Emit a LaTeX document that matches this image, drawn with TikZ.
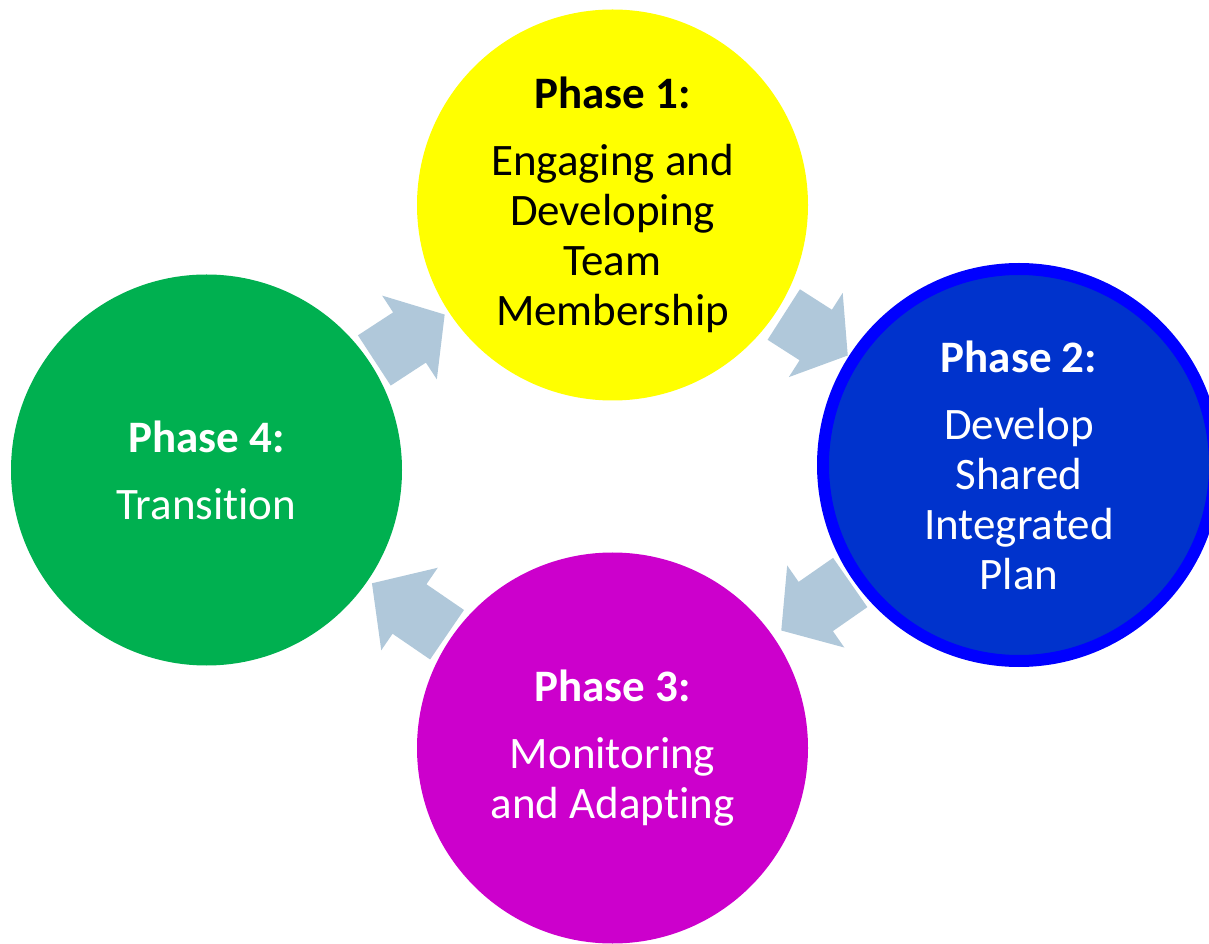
\documentclass[tikz,border=0pt]{standalone}
\usepackage{fontspec}
\setmainfont{Carlito}[Ligatures=NoCommon]
\usetikzlibrary{calc}
\definecolor{phaseyellow}{HTML}{FFFF00}
\definecolor{phaseblue}{HTML}{0033CC}
\definecolor{phaseblueedge}{HTML}{0000FF}
\definecolor{phasemagenta}{HTML}{CC00CC}
\definecolor{phasegreen}{HTML}{00B050}
\definecolor{arrowc}{HTML}{B0C8DA}
\newcommand{\cyclearrow}[3]{%
  \path[fill=arrowc] let \p1=(#1.center), \p2=(#2.center),
    \p3=($(#1.center)!0.5!(#2.center)$),
    \n1={atan2(\y2-\y1,\x2-\x1)} in
    [shift={(\p3)}, rotate=\n1]
    ({-#3/2},-30) -- (0,-30) -- (0,-50) -- ({#3/2},0) -- (0,50) -- (0,30) -- ({-#3/2},30) -- cycle;
}
\begin{document}
\begin{tikzpicture}[x=1pt,y=1pt,
  phase/.style={circle, inner sep=0pt, outer sep=0pt, minimum size=391pt,
    align=center, font=\fontsize{45}{50}\selectfont}]
\useasboundingbox (0,0) rectangle (1209,943);
\clip (0,0) rectangle (1209,943);
\node[phase, fill=phaseyellow, text=black] (p1) at (612.5,738)
  {{\bfseries Phase 1:}\\[17pt]Engaging and\\Developing\\Team\\Membership};
\node[phase, fill=phaseblue, draw=phaseblueedge, line width=12pt, minimum size=392pt, text=white] (p2) at (1019,478)
  {{\bfseries Phase 2:}\\[17pt]Develop\\Shared\\Integrated\\Plan};
\node[phase, fill=phasemagenta, text=white] (p3) at (612.5,195)
  {{\bfseries Phase 3:}\\[17pt]Monitoring\\and Adapting};
\node[phase, fill=phasegreen, text=white] (p4) at (206.5,473)
  {{\bfseries Phase 4:}\\[17pt]Transition};
\cyclearrow{p4}{p1}{84}
\cyclearrow{p1}{p2}{76}
\cyclearrow{p2}{p3}{84}
\cyclearrow{p3}{p4}{91}
\end{tikzpicture}
\end{document}
